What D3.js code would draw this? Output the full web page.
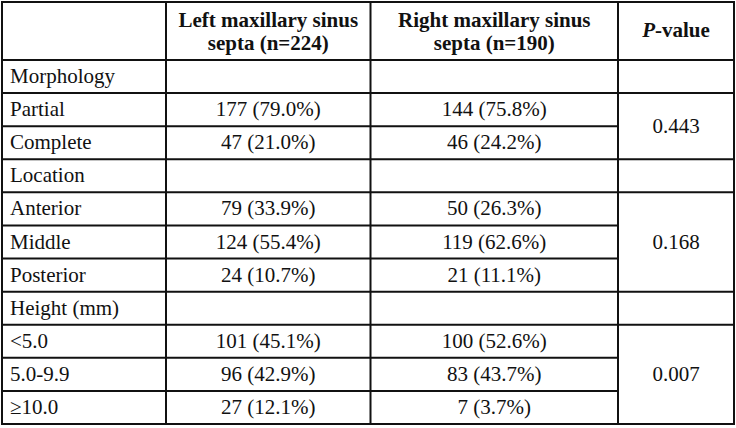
<!DOCTYPE html>
<html>
<head>
<meta charset="utf-8">
<script src="https://cdn.jsdelivr.net/npm/d3@7"></script>
<style>
  body { margin: 0; background: #fff; }
  text { font-family: "Liberation Serif", "Times New Roman", serif; fill: #111; }
</style>
</head>
<body>
<div id="wrapper"></div>
<script>
// data
const headers = [
  [],
  ["Left maxillary sinus", "septa (n=224)"],
  ["Right maxillary sinus", "septa (n=190)"],
  ["P-value"],
]
const rowLabels = ["Morphology", "Partial", "Complete", "Location", "Anterior", "Middle",
  "Posterior", "Height (mm)", "<5.0", "5.0-9.9", "≥10.0"]
const leftValues = [null, "177 (79.0%)", "47 (21.0%)", null, "79 (33.9%)", "124 (55.4%)",
  "24 (10.7%)", null, "101 (45.1%)", "96 (42.9%)", "27 (12.1%)"]
const rightValues = [null, "144 (75.8%)", "46 (24.2%)", null, "50 (26.3%)", "119 (62.6%)",
  "21 (11.1%)", null, "100 (52.6%)", "83 (43.7%)", "7 (3.7%)"]
const pValues = [
  { from: 1, to: 2, value: "0.443" },
  { from: 4, to: 6, value: "0.168" },
  { from: 8, to: 10, value: "0.007" },
]

// dimensions
const width = 736
const height = 428
const colEdges = [2, 166, 370.5, 618, 734]
const tableTop = 2, headerBottom = 60, tableBottom = 424
const fontSize = 21

const svg = d3.select("#wrapper").append("svg")
    .attr("width", width)
    .attr("height", height)
    .style("display", "block")

const y = d3.scaleBand()
    .domain(d3.range(rowLabels.length))
    .range([headerBottom, tableBottom])

const colMid = i => (colEdges[i] + colEdges[i + 1]) / 2
const grid = svg.append("g")
    .attr("stroke", "#111")
    .attr("stroke-width", 2)

// vertical lines
colEdges.forEach(x => {
  grid.append("line")
      .attr("x1", x).attr("x2", x)
      .attr("y1", tableTop - 1).attr("y2", tableBottom + 1)
})

// horizontal lines
grid.append("line")
    .attr("x1", colEdges[0]).attr("x2", colEdges[4])
    .attr("y1", tableTop).attr("y2", tableTop)
grid.append("line")
    .attr("x1", colEdges[0]).attr("x2", colEdges[4])
    .attr("y1", tableBottom).attr("y2", tableBottom)
rowLabels.forEach((d, i) => {
  const yy = y(i)
  const inMerge = pValues.some(p => i > p.from && i <= p.to)
  grid.append("line")
      .attr("x1", colEdges[0]).attr("x2", inMerge ? colEdges[3] : colEdges[4])
      .attr("y1", yy).attr("y2", yy)
})

// header
const head = svg.append("g").attr("font-weight", "bold").attr("font-size", fontSize)
headers.forEach((lines, c) => {
  if (!lines.length) return
  if (c === 3) {
    const t = head.append("text")
        .attr("x", colMid(c))
        .attr("y", 37)
        .attr("text-anchor", "middle")
    t.append("tspan").attr("font-style", "italic").text("P")
    t.append("tspan").text("-value")
    return
  }
  lines.forEach((line, j) => {
    head.append("text")
        .attr("x", colMid(c))
        .attr("y", 27 + j * 23)
        .attr("text-anchor", "middle")
        .text(line)
  })
})

// body
const body = svg.append("g").attr("font-size", fontSize)
const baseline = i => y(i) + y.bandwidth() / 2 + 6.5

body.selectAll(".label")
  .data(rowLabels)
  .join("text")
    .attr("class", "label")
    .attr("x", 10)
    .attr("y", (d, i) => baseline(i))
    .text(d => d)

;[leftValues, rightValues].forEach((vals, k) => {
  body.selectAll(".v" + k)
    .data(vals)
    .join("text")
      .attr("class", "v" + k)
      .attr("x", colMid(k + 1))
      .attr("y", (d, i) => baseline(i))
      .attr("text-anchor", "middle")
      .text(d => d || "")
})

body.selectAll(".p")
  .data(pValues)
  .join("text")
    .attr("class", "p")
    .attr("x", colMid(3))
    .attr("y", d => (y(d.from) + y(d.to) + y.bandwidth()) / 2 + 6.5)
    .attr("text-anchor", "middle")
    .text(d => d.value)
</script>
</body>
</html>
